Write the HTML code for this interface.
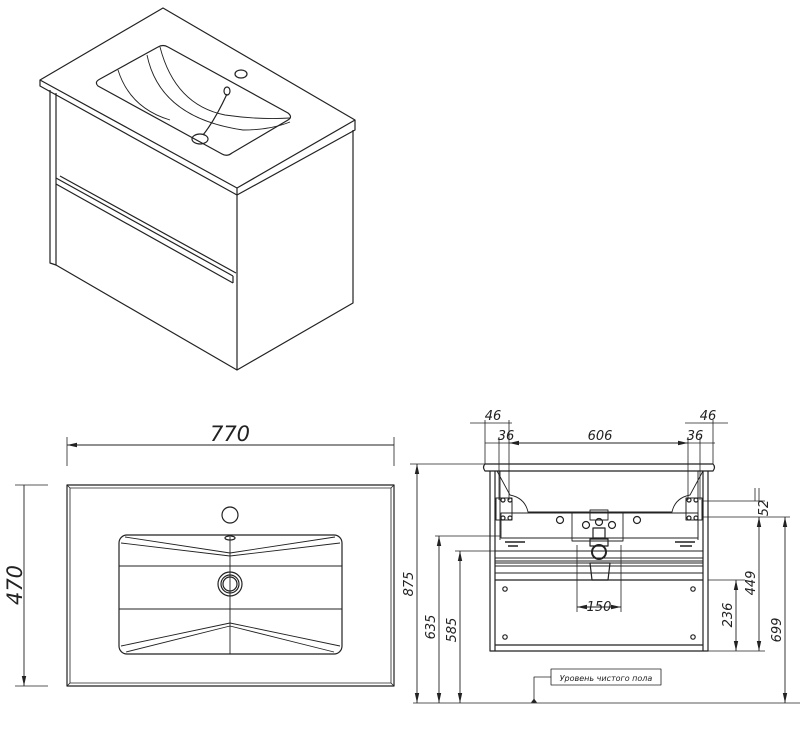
<!DOCTYPE html>
<html><head><meta charset="utf-8"><style>
html,body{margin:0;padding:0;background:#fff;}
svg{display:block;}
text{font-family:"DejaVu Sans","Liberation Sans",sans-serif;font-style:italic;fill:#222;}
</style></head><body>
<svg width="800" height="733" viewBox="0 0 800 733" xmlns="http://www.w3.org/2000/svg">
<defs>
<marker id="a" markerWidth="10" markerHeight="6" refX="10" refY="3" orient="auto-start-reverse" markerUnits="userSpaceOnUse"><path d="M0,0.8 L10,3 L0,5.2z" fill="#222"/></marker>
</defs>
<g fill="none" stroke="#222" stroke-width="1.2" stroke-linejoin="round">
<!-- isometric -->
<path d="M40,80 L163,8 L355,120 L237,188 Z"/>
<path d="M40,80 L40,86 L237,195 L355,130 L355,120"/>
<path d="M237,188 L237,195"/>
<path d="M50,90 L50,263 L56,265 L56,93"/>
<path d="M56,265 L237,370 L353,303 L353,130"/>
<path d="M237,195 L237,370"/>
<path d="M56,178 L233,276 M56,184 L233,283 M60,176 L236,273"/>
<path d="M233,276 L233,283"/>
<!-- basin iso -->
<path d="M98,86 Q94,82 100,79 L158,47 Q163,44 168,47 L288,113 Q293,117 288,120 L232,153 Q227,157 222,154 Z"/>
<path d="M118,70 Q130,108 170,120 M147,55 Q160,118 243,130 Q270,130 290,122 M160,47 Q175,105 225,115 Q260,120 290,118" stroke-width="0.9"/>
<ellipse cx="241" cy="74" rx="6" ry="4"/>
<ellipse cx="227" cy="91" rx="3" ry="4"/>
<ellipse cx="200" cy="139" rx="8" ry="5"/>
<path d="M227,94 Q215,120 203,135"/>
<!-- top view -->
<rect x="67" y="485" width="327" height="201"/>
<rect x="70" y="488" width="321" height="195" stroke-width="0.8"/>
<path d="M67,485 L70,488 M394,485 L391,488 M67,686 L70,683 M394,686 L391,683" stroke-width="0.8"/>
<rect x="119" y="535" width="223" height="119" rx="8"/>
<path d="M121,543 L230,556 L340,543 M125,537 L230,553 L335,537 M119,566 L342,566 M119,609 L342,609 M121,646 L230,623 L340,646 M126,652 L230,626 L334,652 M230,537 L230,654" stroke-width="0.9"/>
<ellipse cx="230" cy="538" rx="5" ry="2"/>
<circle cx="230" cy="515" r="8"/>
<circle cx="230" cy="584" r="12"/>
<circle cx="230" cy="584" r="9"/>
<circle cx="230" cy="584" r="7"/>
<!-- dims top view -->
<path d="M67,437 L67,466 M394,437 L394,466 M15,485 L48,485 M15,686 L48,686" stroke-width="0.8"/>
<path d="M67,445 L394,445 M24,485 L24,686" stroke-width="0.9" marker-start="url(#a)" marker-end="url(#a)"/>
<!-- front view -->
<path d="M485,464 L713,464 Q716,467 713,471 L485,471 Q482,467 485,464 Z"/>
<path d="M490,471 L490,651 L708,651 L708,471"/>
<path d="M495,471 L495,651 M703,471 L703,651 M495,645 L703,645 M495,580 L703,580"/>
<path d="M495,551 L703,551 M495,558 L703,558 M495,561 L703,561 M495,563 L703,563 M495,566 L703,566 M495,573 L703,573" stroke-width="0.9"/>
<path d="M497,471 L510,495 Q525,498 528,512 L672,512 Q675,498 690,495 L703,471" stroke-width="0.9"/>
<path d="M500,471 L500,540 M698,471 L698,540" stroke-width="0.9"/>
<rect x="501" y="513" width="197" height="25" stroke-width="0.9"/>
<rect x="572" y="513" width="51" height="28" stroke-width="0.9"/>
<rect x="590" y="510" width="18" height="10" stroke-width="0.9"/>
<rect x="496" y="498" width="16" height="22" stroke-width="1"/>
<rect x="686" y="498" width="16" height="22" stroke-width="1"/>
<circle cx="503" cy="500" r="2"/><circle cx="510" cy="500" r="2"/><circle cx="503" cy="518" r="2"/><circle cx="510" cy="518" r="2"/>
<circle cx="689" cy="500" r="2"/><circle cx="696" cy="500" r="2"/><circle cx="689" cy="518" r="2"/><circle cx="696" cy="518" r="2"/>
<circle cx="560" cy="520" r="3.5"/><circle cx="637" cy="520" r="3.5"/>
<circle cx="586" cy="525" r="3.5"/><circle cx="612" cy="525" r="3.5"/><circle cx="599" cy="522" r="3.5"/>
<rect x="593" y="528" width="12" height="10"/>
<rect x="590" y="539" width="18" height="7"/>
<circle cx="599" cy="552" r="7" stroke-width="2"/>
<path d="M590,563 L610,563 L608,580 L592,580 Z"/>
<path d="M505,542 L525,542 M675,542 L695,542 M508,546 L518,546 M680,546 L692,546" stroke-width="1.5"/>
<circle cx="505" cy="589" r="2.2"/><circle cx="693" cy="589" r="2.2"/><circle cx="505" cy="637" r="2.2"/><circle cx="693" cy="637" r="2.2"/>
<!-- dims front -->
<g stroke-width="0.8">
<path d="M410,464 L485,464 M413,703 L800,703 M435,536 L500,536 M455,551 L500,551"/>
<path d="M485,420 L485,464 M499,437 L499,500 M509,420 L509,500 M688,437 L688,500 M700,437 L700,500 M713,420 L713,464"/>
<path d="M577,545 L577,612 M621,545 L621,612"/>
<path d="M708,580 L745,580 M703,517 L790,517 M703,501 L765,501 M708,651 L765,651 M755,488 L755,501"/>
<path d="M534,703 L534,677 L551,677"/>
</g>
<g stroke-width="0.9" marker-start="url(#a)" marker-end="url(#a)">
<path d="M417,464 L417,703"/>
<path d="M439,536 L439,703"/>
<path d="M460,551 L460,703"/>
<path d="M577,607 L621,607"/>
<path d="M736,580 L736,651"/>
<path d="M759,517 L759,651"/>
<path d="M785,517 L785,703"/>
<path d="M509,443 L688,443"/>
</g>
<path d="M499,443 L509,443 M688,443 L700,443 M485,443 L499,443 M700,443 L715,443" stroke-width="0.8"/>
<path d="M470,423 L485,423 M509,423 L512,423 M685,423 L700,423 M713,423 L728,423" stroke-width="0.8"/>
<path d="M485,423 L509,423" stroke-width="0.8"/>
<path d="M700,423 L713,423" stroke-width="0.8"/>
<path d="M759,488 L759,501 M759,517 L759,527" stroke-width="0.8"/>
<rect x="551" y="669" width="110" height="16" stroke-width="0.8"/>
</g>
<path d="M534,703 l-3,-0.5 l3,-4 l3,4z" fill="#222"/>
<text x="230" y="441" font-size="21" text-anchor="middle">770</text>
<text transform="translate(22,585) rotate(-90)" font-size="21" text-anchor="middle">470</text>
<text x="493" y="420" font-size="13" text-anchor="middle">46</text>
<text x="708" y="420" font-size="13" text-anchor="middle">46</text>
<text x="506" y="440" font-size="13" text-anchor="middle">36</text>
<text x="695" y="440" font-size="13" text-anchor="middle">36</text>
<text x="600" y="440" font-size="13" text-anchor="middle">606</text>
<text x="599" y="611" font-size="13" text-anchor="middle">150</text>
<text transform="translate(413,584) rotate(-90)" font-size="13" text-anchor="middle">875</text>
<text transform="translate(435,627) rotate(-90)" font-size="13" text-anchor="middle">635</text>
<text transform="translate(456,630) rotate(-90)" font-size="13" text-anchor="middle">585</text>
<text transform="translate(732,615) rotate(-90)" font-size="13" text-anchor="middle">236</text>
<text transform="translate(755,583) rotate(-90)" font-size="13" text-anchor="middle">449</text>
<text transform="translate(781,630) rotate(-90)" font-size="13" text-anchor="middle">699</text>
<text transform="translate(768,508) rotate(-90)" font-size="13" text-anchor="middle">52</text>
<text x="606" y="681" font-size="8" text-anchor="middle">Уровень чистого пола</text>
</svg>
</body></html>
